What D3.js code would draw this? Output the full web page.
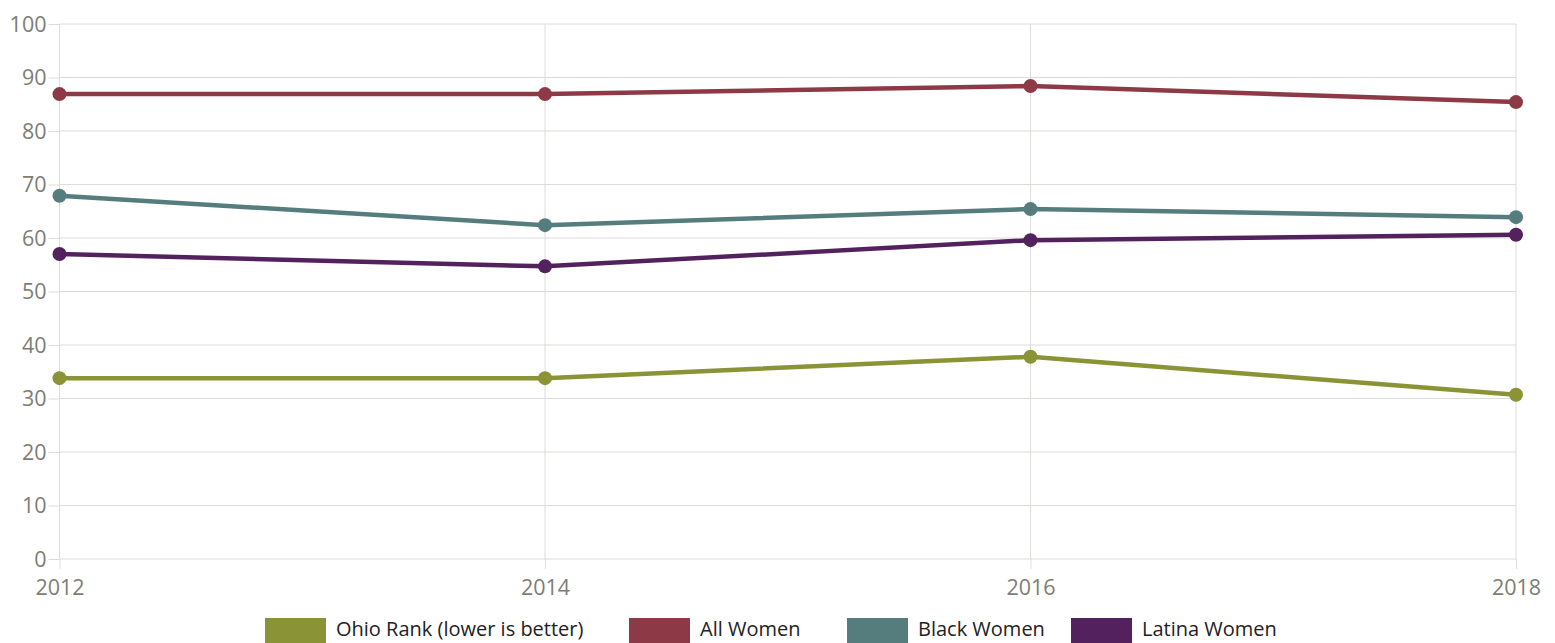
<!DOCTYPE html>
<html><head><meta charset="utf-8">
<script src="https://cdn.jsdelivr.net/npm/d3@7"></script>
<style>body{margin:0;background:#fff}svg{display:block}</style>
</head><body>
<script>
const years = [2012, 2014, 2016, 2018];
const yTicks = [0,10,20,30,40,50,60,70,80,90,100];
const seriesNames = ["Ohio Rank (lower is better)", "All Women", "Black Women", "Latina Women"];
const seriesColors = ["#8a9436", "#8e3a46", "#567d7e", "#54215f"];
const ohioRank = [33.8, 33.8, 37.8, 30.7];
const allWomen = [86.9, 86.9, 88.4, 85.4];
const blackWomen = [67.9, 62.4, 65.4, 63.9];
const latinaWomen = [57, 54.7, 59.6, 60.6];
const seriesValues = [ohioRank, allWomen, blackWomen, latinaWomen];

const W = 1555, H = 643;
const m = {left: 59.5, right: 39, top: 24, bottom: 84};
const svg = d3.select("body").append("svg").attr("width", W).attr("height", H);
const x = d3.scaleLinear().domain([2012, 2018]).range([m.left, W - m.right]);
const y = d3.scaleLinear().domain([0, 100]).range([H - m.bottom, m.top]);
const tickFont = "'Open Sans', sans-serif";

// horizontal grid + y axis labels
const yAx = svg.append("g").attr("transform", `translate(${m.left},0)`)
  .call(d3.axisLeft(y).tickValues(yTicks).tickSize(11).tickFormat(d3.format("d")));
yAx.select(".domain").remove();
yAx.selectAll("line").attr("stroke", "#dcdcd8").attr("stroke-width", 1);
yAx.selectAll("text").attr("x", -13).attr("dy", "0.34em")
  .style("font-family", tickFont).style("font-size", "21.5px").attr("fill", "#7d7d76");
svg.append("g").selectAll("line").data(yTicks).join("line")
  .attr("x1", m.left).attr("x2", W - m.right)
  .attr("y1", d => y(d)).attr("y2", d => y(d))
  .attr("stroke", "#dcdcd8").attr("stroke-width", 1);

// vertical grid + x axis labels
const xAx = svg.append("g").attr("transform", `translate(0,${H - m.bottom})`)
  .call(d3.axisBottom(x).tickValues(years).tickSize(10).tickFormat(d3.format("d")));
xAx.select(".domain").remove();
xAx.selectAll("line").attr("stroke", "#dcdcd8");
xAx.selectAll("text").attr("y", 36).attr("dy", "0")
  .style("font-family", tickFont).style("font-size", "21.5px").attr("fill", "#7d7d76");
svg.append("g").selectAll("line").data(years).join("line")
  .attr("x1", d => x(d)).attr("x2", d => x(d))
  .attr("y1", m.top).attr("y2", H - m.bottom)
  .attr("stroke", "#dcdcd8").attr("stroke-width", 1);

// series
const line = d3.line().x((d, i) => x(years[i])).y(d => y(d));
seriesValues.forEach((vals, k) => {
  const g = svg.append("g");
  g.append("path").datum(vals).attr("d", line).attr("fill", "none")
    .attr("stroke", seriesColors[k]).attr("stroke-width", 4.5);
  g.selectAll("circle").data(vals).join("circle")
    .attr("cx", (d, i) => x(years[i])).attr("cy", d => y(d)).attr("r", 7)
    .attr("fill", seriesColors[k]);
});

// legend
const legX = [265, 629, 847, 1071];
const leg = svg.append("g");
seriesNames.forEach((n, k) => {
  leg.append("rect").attr("x", legX[k]).attr("y", 618).attr("width", 61).attr("height", 26)
    .attr("fill", seriesColors[k]);
  leg.append("text").attr("x", legX[k] + 71).attr("y", 636).text(n)
    .style("font-family", "'Open Sans', sans-serif").style("font-size", "20px")
    .attr("fill", "#222");
});
</script>
</body></html>
